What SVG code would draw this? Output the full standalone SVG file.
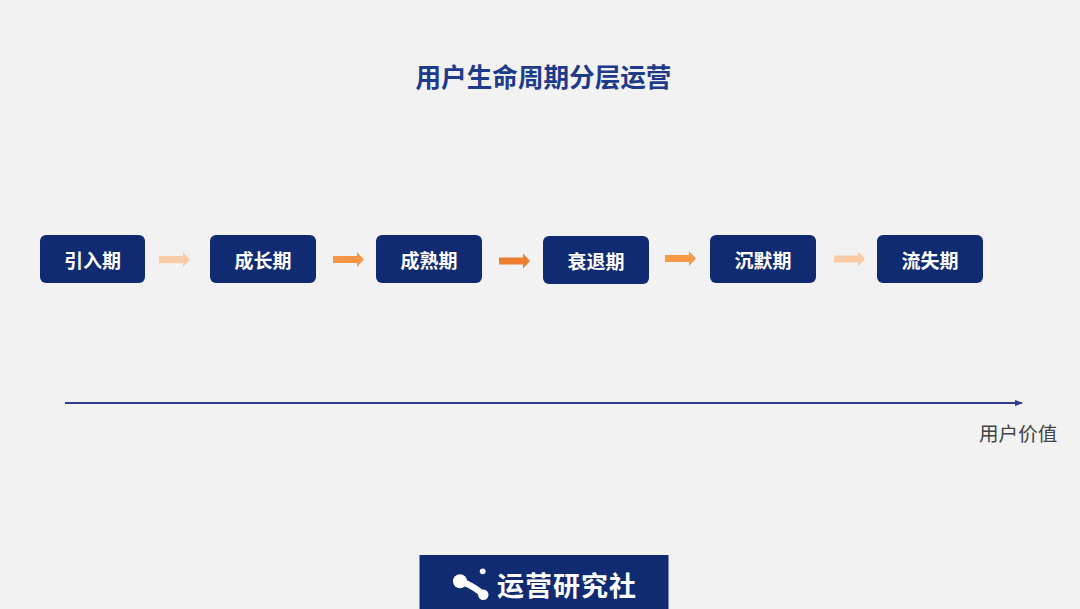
<svg xmlns="http://www.w3.org/2000/svg" width="1080" height="609" viewBox="0 0 1080 609">
<defs>
<style>
.box{fill:#112B73;}
.bt{font-family:"Noto Sans CJK SC","Noto Sans",sans-serif;font-size:19px;font-weight:bold;fill:#FFFFFF;text-anchor:middle;dominant-baseline:central;}
.title{font-family:"Noto Sans CJK SC","Noto Sans",sans-serif;font-size:25.6px;font-weight:bold;fill:#1E3A8A;text-anchor:middle;dominant-baseline:central;}
.lbl{font-family:"Noto Sans CJK SC","Noto Sans",sans-serif;font-size:19.6px;fill:#444444;dominant-baseline:central;}
.logo{font-family:"Noto Sans CJK SC","Noto Sans",sans-serif;font-size:27px;font-weight:bold;fill:#FFFFFF;dominant-baseline:central;letter-spacing:1px;}
</style>
<marker id="ah" viewBox="0 0 10 10" refX="9" refY="5" markerWidth="8" markerHeight="8" markerUnits="userSpaceOnUse" orient="auto">
<path d="M0,1 L10,5 L0,9 Z" fill="#2F3F8F"/>
</marker>
<path id="arr" d="M0,-3.6 L24,-3.6 L24,-7.5 L31,0 L24,7.5 L24,3.6 L0,3.6 Z"/>
</defs>
<rect width="1080" height="609" fill="#F2F2F2"/>
<text class="title" x="543.5" y="75">用户生命周期分层运营</text>

<g id="node-yinru"><rect class="box" x="40" y="235" width="105" height="48" rx="6"/><text class="bt" x="92.5" y="259">引入期</text></g>
<g id="node-chengzhang"><rect class="box" x="210" y="235" width="106" height="48" rx="6"/><text class="bt" x="263" y="259">成长期</text></g>
<g id="node-chengshu"><rect class="box" x="376" y="235" width="106" height="48" rx="6"/><text class="bt" x="429" y="259">成熟期</text></g>
<g id="node-shuaitui"><rect class="box" x="543" y="236" width="106" height="48" rx="6"/><text class="bt" x="596" y="260">衰退期</text></g>
<g id="node-chenmo"><rect class="box" x="710" y="235" width="106" height="48" rx="6"/><text class="bt" x="763" y="259">沉默期</text></g>
<g id="node-liushi"><rect class="box" x="877" y="235" width="106" height="48" rx="6"/><text class="bt" x="930" y="259">流失期</text></g>

<g id="connectors">
<use href="#arr" x="159" y="259.7" fill="#F9CAA6"/>
<use href="#arr" x="333" y="259.5" fill="#F79646"/>
<use href="#arr" x="499" y="261" fill="#ED7D31"/>
<use href="#arr" x="665" y="258.5" fill="#F79A48"/>
<use href="#arr" x="834" y="259" fill="#F9CAA6"/>
<line x1="65" y1="403" x2="1022" y2="403" stroke="#2F3F8F" stroke-width="2" marker-end="url(#ah)"/>
</g>
<text class="lbl" x="979" y="432">用户价值</text>

<g id="logo">
<rect x="419.5" y="555" width="249" height="54" fill="#112B73"/>
<path d="M460,581 Q474,586 483,594.5" stroke="#FFFFFF" stroke-width="6.5" fill="none" stroke-linecap="round"/>
<circle cx="460" cy="581.3" r="7" fill="#FFFFFF"/>
<circle cx="483.3" cy="594.7" r="5.2" fill="#FFFFFF"/>
<circle cx="482.7" cy="571.3" r="2.9" fill="#FFFFFF"/>
<text class="logo" x="497" y="584.5">运营研究社</text>
</g>
</svg>
